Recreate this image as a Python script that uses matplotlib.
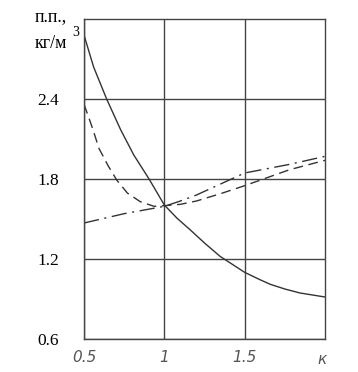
import matplotlib.pyplot as plt

# значения
k_solid = [0.5, 0.56, 0.641, 0.728, 0.81, 0.905, 1.0, 1.08, 1.16, 1.25,
           1.347, 1.5, 1.595, 1.66, 1.75, 1.845, 2.0]
pp_solid = [2.88, 2.64, 2.40, 2.17, 1.98, 1.80, 1.605, 1.505, 1.42, 1.32,
            1.22, 1.10, 1.045, 1.01, 0.975, 0.945, 0.915]

k_dash = [0.5, 0.53, 0.556, 0.593, 0.65, 0.705, 0.77, 0.85, 0.936, 1.0,
          1.1, 1.2, 1.35, 1.5, 1.78, 2.0]
pp_dash = [2.36, 2.26, 2.17, 2.03, 1.90, 1.79, 1.695, 1.63, 1.595, 1.60,
           1.61, 1.635, 1.69, 1.75, 1.87, 1.94]

k_dashdot = [0.5, 0.75, 1.0, 1.1, 1.2, 1.3, 1.5, 1.78, 2.0]
pp_dashdot = [1.47, 1.54, 1.595, 1.635, 1.68, 1.735, 1.845, 1.91, 1.97]

x_ticks = [0.5, 1.0, 1.5]
x_labels = ['0.5', '1', '1.5']
y_ticks = [0.6, 1.2, 1.8, 2.4]
y_labels = ['0.6', '1.2', '1.8', '2.4']

fig = plt.figure(figsize=(3.58, 3.72), dpi=100)
ax = fig.add_axes([0.2346, 0.0887, 0.6732, 0.8602])

lc = '#333333'
ax.plot(k_solid, pp_solid, color=lc, lw=1.0)
ax.plot(k_dash, pp_dash, color=lc, lw=1.0, dashes=(7, 4))
ax.plot(k_dashdot, pp_dashdot, color=lc, lw=1.0, dashes=(11, 4, 1.5, 4))

ax.set_xlim(0.5, 2.0)
ax.set_ylim(0.6, 3.0)
ax.set_xticks(x_ticks)
ax.set_yticks(y_ticks)
ax.set_yticklabels(y_labels, family='Liberation Serif', fontsize=12.5)
ax.set_xticklabels(x_labels, family=['Liberation Sans Narrow', 'DejaVu Sans'],
                   style='italic', fontsize=11, color='#555555')
ax.tick_params(length=0)
ax.tick_params(axis='x', pad=8)
ax.tick_params(axis='y', pad=18)
ax.grid(True, color='#444444', lw=1.0)
for s in ax.spines.values():
    s.set_color('#444444')
    s.set_linewidth(1.0)

fig.text(322 / 358, 1 - 359 / 372, 'к', family=['Liberation Sans Narrow', 'DejaVu Sans'],
         style='italic', fontsize=11, color='#555555', ha='center', va='center')
fig.text(35 / 358, 1 - 17 / 372, 'п.п.,', family='Liberation Serif',
         fontsize=13, ha='left', va='center')
fig.text(35 / 358, 1 - 43 / 372, 'кг/м', family='Liberation Serif',
         fontsize=13, ha='left', va='center')
fig.text(72 / 358, 1 - 32 / 372, '3', family='Liberation Serif',
         fontsize=10, ha='left', va='center')

fig.savefig('out.png', dpi=100)
